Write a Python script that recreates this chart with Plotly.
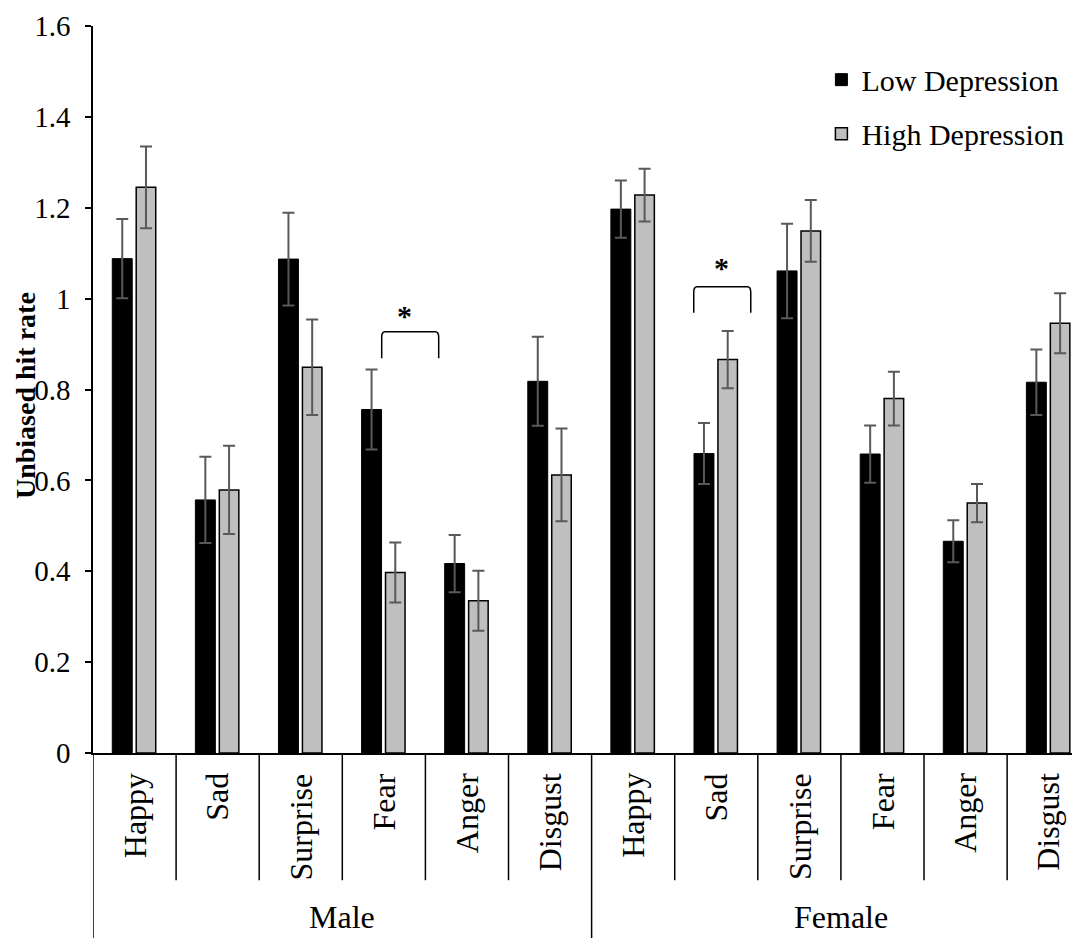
import plotly.graph_objects as go

# ---- data ----
groups = ["Male", "Female"]
emotions = ["Happy", "Sad", "Surprise", "Fear", "Anger", "Disgust"]
low_dep = [1.088, 0.557, 1.087, 0.756, 0.417, 0.818,
           1.197, 0.659, 1.061, 0.658, 0.466, 0.816]
low_err = [0.087, 0.095, 0.102, 0.088, 0.063, 0.098,
           0.063, 0.067, 0.104, 0.063, 0.046, 0.072]
high_dep = [1.245, 0.579, 0.849, 0.397, 0.335, 0.612,
            1.228, 0.866, 1.149, 0.780, 0.550, 0.946]
high_err = [0.090, 0.097, 0.105, 0.066, 0.066, 0.102,
            0.058, 0.063, 0.068, 0.059, 0.042, 0.066]
y_ticks = [0, 0.2, 0.4, 0.6, 0.8, 1, 1.2, 1.4, 1.6]
# significance brackets: (left x, right x, top y, leg bottom y, star x, star y)
brackets = [(2.974, 3.660, 0.927, 0.869, 3.25, 0.971),
            (6.729, 7.415, 1.026, 0.969, 7.06, 1.077)]

FONT = "Times New Roman, Liberation Serif, serif"
n_e = len(emotions)
x_pos = list(range(len(groups) * n_e))
labels = [e for g in groups for e in emotions]

fig = go.Figure()
fig.add_trace(go.Bar(
    x=x_pos, y=low_dep, name="Low Depression", legendgroup="a",
    offset=-0.268, width=0.24,
    marker=dict(color="#000000", line=dict(color="#000000", width=1)),
    error_y=dict(type="data", array=low_err, color="#595959", thickness=2, width=6),
))
fig.add_trace(go.Bar(
    x=x_pos, y=high_dep, name="High Depression", legendgroup="b",
    offset=0.02, width=0.235,
    marker=dict(color="#bfbfbf", line=dict(color="#000000", width=1.5)),
    error_y=dict(type="data", array=high_err, color="#595959", thickness=2, width=6),
))

shapes = []
annotations = []
# category dividers and labels
for i, lab in enumerate(labels):
    annotations.append(dict(x=i, y=-0.025, xref="x", yref="paper", text=lab,
                            textangle=-90, showarrow=False, xanchor="center",
                            yanchor="top", font=dict(family=FONT, size=32, color="black")))
for b in range(len(labels) + 1):
    outer = (b % n_e == 0)
    shapes.append(dict(type="line", xref="x", yref="paper", x0=b - 0.5, x1=b - 0.5,
                       y0=0, y1=-0.26 if outer else -0.175,
                       line=dict(color="black", width=1.5)))
for gi, g in enumerate(groups):
    annotations.append(dict(x=gi * n_e + (n_e - 1) / 2, y=-0.226, xref="x", yref="paper",
                            text=g, showarrow=False, xanchor="center", yanchor="middle",
                            font=dict(family=FONT, size=32, color="black")))
# brackets
for (x1, x2, yt, yb, sx, sy) in brackets:
    rx, ry = 0.04, 0.012
    path = (f"M {x1},{yb} L {x1},{yt - ry} Q {x1},{yt} {x1 + rx},{yt} "
            f"L {x2 - rx},{yt} Q {x2},{yt} {x2},{yt - ry} L {x2},{yb}")
    shapes.append(dict(type="path", xref="x", yref="y", path=path,
                       line=dict(color="black", width=1.5)))
    annotations.append(dict(x=sx, y=sy, xref="x", yref="y", text="<b>*</b>",
                            showarrow=False, xanchor="center", yanchor="middle",
                            yshift=-4, font=dict(family=FONT, size=30, color="black")))
# y axis title overlapping tick labels
annotations.append(dict(x=-0.0689, y=0.4924, xref="paper", yref="paper",
                        text="<b>Unbiased hit rate</b>", textangle=-90, showarrow=False,
                        xanchor="center", yanchor="middle",
                        font=dict(family=FONT, size=28, color="black")))

fig.update_layout(
    width=1072, height=930,
    margin=dict(l=85, r=0, t=18, b=185, autoexpand=False),
    paper_bgcolor="white", plot_bgcolor="white",
    barmode="overlay",
    font=dict(family=FONT, size=28, color="black"),
    showlegend=True,
    legend=dict(x=0.738, y=0.962, xanchor="left", yanchor="top",
                font=dict(family=FONT, size=30, color="black"),
                bgcolor="rgba(0,0,0,0)", tracegroupgap=12,
                traceorder="grouped"),
    shapes=shapes, annotations=annotations,
)
fig.update_xaxes(range=[-0.5, 11.377], showticklabels=False, ticks="",
                 showgrid=False, zeroline=False, showline=True,
                 linecolor="black", linewidth=1.5)
fig.update_yaxes(range=[0, 1.6], tickvals=y_ticks, ticktext=[f"{v:g}" for v in y_ticks],
                 ticks="outside", ticklen=6, tickwidth=1.5, tickcolor="black",
                 ticklabelstandoff=9,
                 showgrid=False, zeroline=False, showline=True,
                 linecolor="black", linewidth=1.5,
                 tickfont=dict(family=FONT, size=29, color="black"))

fig.write_html("out.html")
